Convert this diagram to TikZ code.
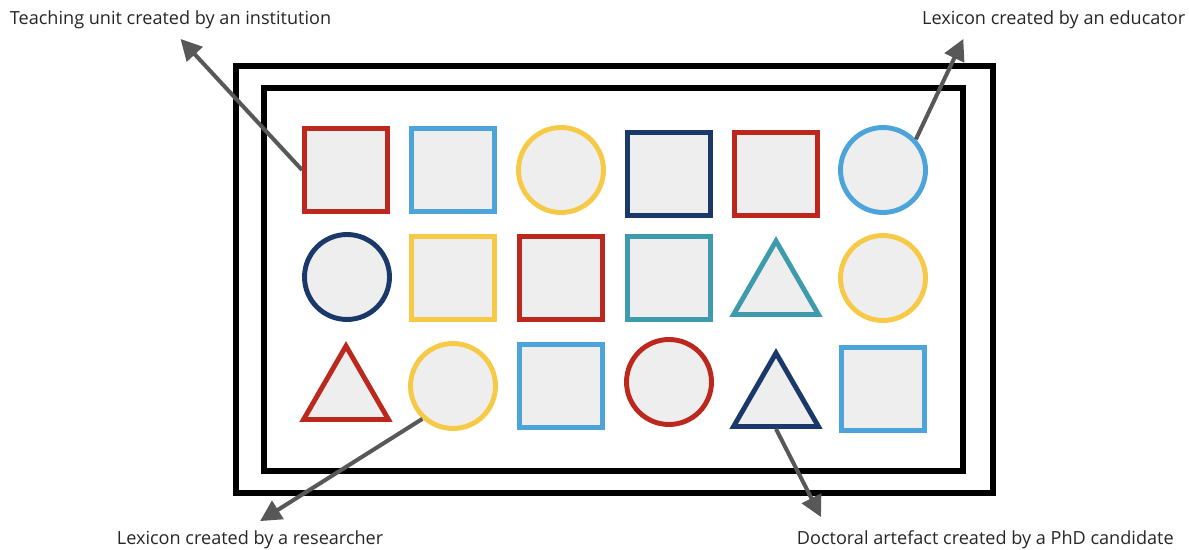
\documentclass[tikz,border=0pt]{standalone}
\usepackage{fontspec}
\setmainfont{Open Sans}
\usepackage{xcolor}
\usepackage{tikz}
\usetikzlibrary{shapes,arrows.meta,positioning}
\definecolor{unitRed}{RGB}{188,40,30}
\definecolor{unitBlue}{RGB}{76,164,218}
\definecolor{unitYellow}{RGB}{246,202,70}
\definecolor{unitNavy}{RGB}{26,56,105}
\definecolor{unitTeal}{RGB}{62,155,172}
\definecolor{unitFill}{RGB}{238,238,238}
\definecolor{pointerGray}{RGB}{88,88,88}

\begin{document}
\begin{tikzpicture}[x=0.02cm,y=-0.02cm,
  sq/.style={rectangle,minimum size=1.66cm},
  ci/.style={circle,minimum size=1.7cm},
  tr/.style={regular polygon,regular polygon sides=3,minimum size=1.96cm},
  piece/.style={draw=#1,fill=unitFill,line width=2.8pt,inner sep=0pt},
  frame/.style={draw=black,line width=3.4pt},
  pointer/.style={draw=pointerGray,line width=2.3pt,
                  -{Triangle[length=12pt,width=12pt]}},
  lbl/.style={font=\fontsize{10.3}{12}\selectfont,text=black!85,inner sep=2pt}]
\useasboundingbox (0,0) rectangle (1189,550);
% the two frames
\draw[frame] (236,66) rectangle (993,493);
\draw[frame] (264,88) rectangle (963,471);
% the pieces, row by row
\foreach \nm/\xx/\yy/\shp/\col in {
  s11/346/170/sq/unitRed,   s12/453/170/sq/unitBlue,
  s13/561/170/ci/unitYellow, s14/669/174/sq/unitNavy,
  s15/776/174/sq/unitRed,   s16/883/170/ci/unitBlue,
  s21/347/277/ci/unitNavy,  s22/453/278/sq/unitYellow,
  s23/561/278/sq/unitRed,   s24/669/278/sq/unitTeal,
  s25/776/290/tr/unitTeal,  s26/883/278/ci/unitYellow,
  s31/346/395/tr/unitRed,   s32/453/386/ci/unitYellow,
  s33/561/386/sq/unitBlue,  s34/669/382/ci/unitRed,
  s35/776/402/tr/unitNavy,  s36/883/389/sq/unitBlue}
{
  \node[\shp,piece=\col] (\nm) at (\xx,\yy) {};
}
% labels
\node[lbl,anchor=west] (lab1) at (6,20) {Teaching unit created by an institution};
\node[lbl,anchor=east] (lab2) at (1189,20) {Lexicon created by an educator};
\node[lbl,anchor=west] (lab3) at (113,540) {Lexicon created by a researcher};
\node[lbl,anchor=west] (lab4) at (793,540) {Doctoral artefact created by a PhD candidate};
% pointers
\draw[pointer] (s11.west) -- ([xshift=0.2cm,yshift=-0.12cm]lab1.south);
\draw[pointer] (s16.43) -- ([xshift=0.9cm,yshift=-0.12cm]lab2.south west);
\draw[pointer] (s32.227) -- ([xshift=0.2cm,yshift=0.12cm]lab3.north);
\draw[pointer] (s35.south) -- ([xshift=0.56cm,yshift=0.2cm]lab4.north west);
\end{tikzpicture}
\end{document}
